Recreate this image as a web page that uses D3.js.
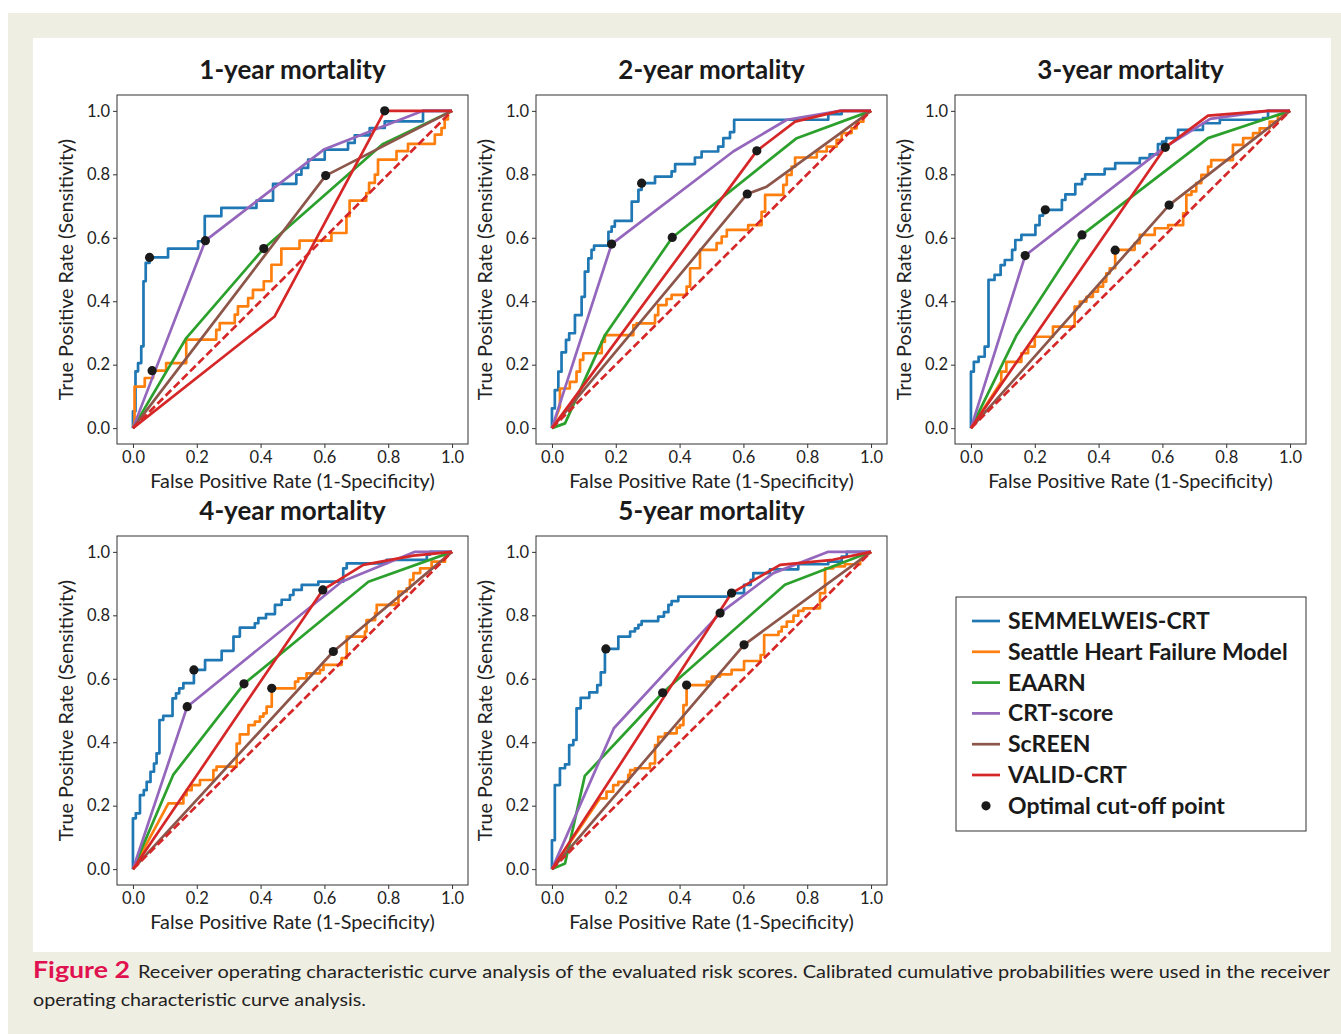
<!DOCTYPE html>
<html>
<head>
<meta charset="utf-8">
<script src="https://cdn.jsdelivr.net/npm/d3@7"></script>
<style>
  body { margin: 0; background: #fff; }
  svg { display: block; }
  .tick text { font-family: Lato, "Open Sans", sans-serif; font-size: 16.5px; fill: #222; }
  .tick line { stroke: #333; }
</style>
</head>
<body>
<script>
// ---- data ----
const panelTitles = ['1-year mortality', '2-year mortality', '3-year mortality', '4-year mortality', '5-year mortality'];
const modelNames = ['SEMMELWEIS-CRT', 'Seattle Heart Failure Model', 'EAARN', 'CRT-score', 'ScREEN', 'VALID-CRT'];
const modelColors = ['#1f77b4', '#ff7f0e', '#2ca02c', '#9467bd', '#8c564b', '#d62728'];
const tickValues = [0, 0.2, 0.4, 0.6, 0.8, 1.0];

// ROC points [fpr, tpr], one list per panel (1..5 years)
const semmelweisRoc = [
  [[0,0],[0,0.053],[0.008,0.053],[0.008,0.179],[0.016,0.179],[0.016,0.205],[0.026,0.205],[0.026,0.258],[0.033,0.258],[0.033,0.463],[0.04,0.463],[0.04,0.521],[0.052,0.521],[0.052,0.538],[0.11,0.538],[0.11,0.566],[0.204,0.566],[0.204,0.589],[0.225,0.589],[0.225,0.668],[0.277,0.668],[0.277,0.694],[0.387,0.694],[0.387,0.717],[0.439,0.717],[0.439,0.77],[0.512,0.77],[0.512,0.799],[0.528,0.799],[0.528,0.82],[0.549,0.82],[0.549,0.846],[0.601,0.846],[0.601,0.878],[0.674,0.878],[0.674,0.899],[0.695,0.899],[0.695,0.923],[0.742,0.923],[0.742,0.946],[0.789,0.946],[0.789,0.967],[0.909,0.967],[0.909,1],[1,1]],
  [[0,0],[0,0.062],[0.009,0.062],[0.009,0.12],[0.02,0.12],[0.02,0.178],[0.03,0.178],[0.03,0.239],[0.044,0.239],[0.044,0.278],[0.054,0.278],[0.054,0.299],[0.072,0.299],[0.072,0.356],[0.093,0.356],[0.093,0.414],[0.103,0.414],[0.103,0.493],[0.114,0.493],[0.114,0.535],[0.124,0.535],[0.124,0.562],[0.132,0.562],[0.132,0.575],[0.177,0.575],[0.177,0.619],[0.187,0.619],[0.187,0.635],[0.197,0.635],[0.197,0.653],[0.25,0.653],[0.25,0.714],[0.271,0.714],[0.271,0.751],[0.281,0.751],[0.281,0.772],[0.323,0.772],[0.323,0.793],[0.375,0.793],[0.375,0.809],[0.386,0.809],[0.386,0.832],[0.448,0.832],[0.448,0.853],[0.469,0.853],[0.469,0.872],[0.521,0.872],[0.521,0.887],[0.537,0.887],[0.537,0.914],[0.558,0.914],[0.558,0.933],[0.571,0.933],[0.571,0.972],[0.866,0.972],[0.866,0.99],[0.908,0.99],[0.908,1],[1,1]],
  [[0,0],[0,0.178],[0.009,0.178],[0.009,0.209],[0.024,0.209],[0.024,0.225],[0.043,0.225],[0.043,0.257],[0.055,0.257],[0.055,0.467],[0.074,0.467],[0.074,0.483],[0.093,0.483],[0.093,0.514],[0.106,0.514],[0.106,0.53],[0.129,0.53],[0.129,0.562],[0.139,0.562],[0.139,0.593],[0.158,0.593],[0.158,0.609],[0.202,0.609],[0.202,0.64],[0.215,0.64],[0.215,0.67],[0.226,0.67],[0.226,0.688],[0.285,0.688],[0.285,0.719],[0.296,0.719],[0.296,0.737],[0.327,0.737],[0.327,0.769],[0.348,0.769],[0.348,0.785],[0.358,0.785],[0.358,0.8],[0.419,0.8],[0.419,0.817],[0.452,0.817],[0.452,0.835],[0.529,0.835],[0.529,0.851],[0.56,0.851],[0.56,0.863],[0.586,0.863],[0.586,0.895],[0.599,0.895],[0.599,0.903],[0.612,0.903],[0.612,0.914],[0.649,0.914],[0.649,0.94],[0.727,0.94],[0.727,0.961],[0.78,0.961],[0.78,0.972],[0.915,0.972],[0.915,0.977],[0.931,0.977],[0.931,1],[1,1]],
  [[0,0],[0,0.16],[0.009,0.16],[0.009,0.176],[0.022,0.176],[0.022,0.233],[0.034,0.233],[0.034,0.249],[0.043,0.249],[0.043,0.275],[0.055,0.275],[0.055,0.307],[0.066,0.307],[0.066,0.333],[0.074,0.333],[0.074,0.365],[0.083,0.365],[0.083,0.47],[0.095,0.47],[0.095,0.483],[0.124,0.483],[0.124,0.538],[0.135,0.538],[0.135,0.554],[0.145,0.554],[0.145,0.57],[0.158,0.57],[0.158,0.586],[0.191,0.586],[0.191,0.628],[0.226,0.628],[0.226,0.659],[0.278,0.659],[0.278,0.688],[0.315,0.688],[0.315,0.733],[0.335,0.733],[0.335,0.761],[0.382,0.761],[0.382,0.775],[0.393,0.775],[0.393,0.791],[0.417,0.791],[0.417,0.804],[0.445,0.804],[0.445,0.833],[0.466,0.833],[0.466,0.849],[0.492,0.849],[0.492,0.864],[0.503,0.864],[0.503,0.88],[0.529,0.88],[0.529,0.896],[0.581,0.896],[0.581,0.906],[0.659,0.906],[0.659,0.948],[0.67,0.948],[0.67,0.964],[0.795,0.964],[0.795,0.975],[0.921,0.975],[0.921,0.991],[0.931,0.991],[0.931,1],[1,1]],
  [[0,0],[0,0.091],[0.009,0.091],[0.009,0.265],[0.025,0.265],[0.025,0.318],[0.041,0.318],[0.041,0.33],[0.054,0.33],[0.054,0.391],[0.067,0.391],[0.067,0.407],[0.077,0.407],[0.077,0.507],[0.09,0.507],[0.09,0.54],[0.117,0.54],[0.117,0.557],[0.142,0.557],[0.142,0.58],[0.153,0.58],[0.153,0.62],[0.166,0.62],[0.166,0.694],[0.208,0.694],[0.208,0.733],[0.245,0.733],[0.245,0.749],[0.26,0.749],[0.26,0.759],[0.271,0.759],[0.271,0.77],[0.281,0.77],[0.281,0.782],[0.333,0.782],[0.333,0.796],[0.351,0.796],[0.351,0.81],[0.365,0.81],[0.365,0.833],[0.375,0.833],[0.375,0.845],[0.396,0.845],[0.396,0.859],[0.553,0.859],[0.553,0.87],[0.602,0.87],[0.602,0.896],[0.623,0.896],[0.623,0.912],[0.631,0.912],[0.631,0.933],[0.683,0.933],[0.683,0.945],[0.772,0.945],[0.772,0.961],[0.866,0.961],[0.866,0.969],[0.908,0.969],[0.908,0.985],[0.924,0.985],[0.924,1],[1,1]]
];

const shfmRoc = [
  [[0,0],[0.005,0.02],[0.005,0.131],[0.037,0.131],[0.037,0.158],[0.063,0.158],[0.063,0.181],[0.104,0.181],[0.104,0.205],[0.167,0.205],[0.167,0.279],[0.261,0.279],[0.261,0.31],[0.272,0.31],[0.272,0.331],[0.319,0.331],[0.319,0.358],[0.329,0.358],[0.329,0.384],[0.361,0.384],[0.361,0.41],[0.376,0.41],[0.376,0.436],[0.41,0.436],[0.41,0.463],[0.434,0.463],[0.434,0.515],[0.465,0.515],[0.465,0.566],[0.522,0.566],[0.522,0.591],[0.622,0.591],[0.622,0.615],[0.669,0.615],[0.669,0.668],[0.679,0.668],[0.679,0.717],[0.731,0.717],[0.731,0.741],[0.74,0.741],[0.74,0.773],[0.758,0.773],[0.758,0.799],[0.768,0.799],[0.768,0.846],[0.826,0.846],[0.826,0.873],[0.862,0.873],[0.862,0.896],[0.946,0.896],[0.946,0.925],[0.967,0.925],[0.967,0.946],[0.977,0.946],[0.977,0.973],[0.987,0.973],[0.987,0.994],[1,1]],
  [[0,0],[0.025,0.067],[0.025,0.125],[0.056,0.125],[0.056,0.146],[0.077,0.146],[0.077,0.178],[0.088,0.178],[0.088,0.215],[0.098,0.215],[0.098,0.236],[0.156,0.236],[0.156,0.272],[0.166,0.272],[0.166,0.293],[0.255,0.293],[0.255,0.325],[0.265,0.325],[0.265,0.33],[0.323,0.33],[0.323,0.356],[0.333,0.356],[0.333,0.388],[0.359,0.388],[0.359,0.407],[0.375,0.407],[0.375,0.42],[0.422,0.42],[0.422,0.446],[0.433,0.446],[0.433,0.504],[0.464,0.504],[0.464,0.562],[0.516,0.562],[0.516,0.583],[0.532,0.583],[0.532,0.604],[0.548,0.604],[0.548,0.625],[0.615,0.625],[0.615,0.64],[0.657,0.64],[0.657,0.682],[0.668,0.682],[0.668,0.735],[0.725,0.735],[0.725,0.767],[0.736,0.767],[0.736,0.798],[0.751,0.798],[0.751,0.824],[0.762,0.824],[0.762,0.853],[0.83,0.853],[0.83,0.872],[0.861,0.872],[0.861,0.887],[0.892,0.887],[0.892,0.909],[0.908,0.909],[0.908,0.93],[0.939,0.93],[0.939,0.945],[0.955,0.945],[0.955,0.966],[0.976,0.966],[0.976,0.987],[1,1]],
  [[0,0],[0.095,0.146],[0.095,0.178],[0.111,0.178],[0.111,0.209],[0.158,0.209],[0.158,0.236],[0.179,0.236],[0.179,0.257],[0.2,0.257],[0.2,0.288],[0.257,0.288],[0.257,0.32],[0.325,0.32],[0.325,0.383],[0.341,0.383],[0.341,0.399],[0.362,0.399],[0.362,0.414],[0.382,0.414],[0.382,0.43],[0.398,0.43],[0.398,0.446],[0.414,0.446],[0.414,0.462],[0.424,0.462],[0.424,0.488],[0.435,0.488],[0.435,0.504],[0.452,0.504],[0.452,0.562],[0.513,0.562],[0.513,0.583],[0.529,0.583],[0.529,0.609],[0.576,0.609],[0.576,0.63],[0.618,0.63],[0.618,0.64],[0.665,0.64],[0.665,0.677],[0.675,0.677],[0.675,0.735],[0.691,0.735],[0.691,0.746],[0.706,0.746],[0.706,0.772],[0.722,0.772],[0.722,0.798],[0.743,0.798],[0.743,0.824],[0.753,0.824],[0.753,0.845],[0.821,0.845],[0.821,0.893],[0.853,0.893],[0.853,0.914],[0.884,0.914],[0.884,0.93],[0.905,0.93],[0.905,0.945],[0.936,0.945],[0.936,0.966],[0.962,0.966],[0.962,0.987],[0.978,0.987],[0.978,0.998],[1,1]],
  [[0,0],[0.111,0.207],[0.158,0.207],[0.158,0.233],[0.168,0.233],[0.168,0.249],[0.184,0.249],[0.184,0.265],[0.21,0.265],[0.21,0.281],[0.252,0.281],[0.252,0.312],[0.262,0.312],[0.262,0.323],[0.325,0.323],[0.325,0.396],[0.335,0.396],[0.335,0.425],[0.362,0.425],[0.362,0.454],[0.382,0.454],[0.382,0.465],[0.398,0.465],[0.398,0.481],[0.409,0.481],[0.409,0.491],[0.419,0.491],[0.419,0.512],[0.435,0.512],[0.435,0.57],[0.508,0.57],[0.508,0.591],[0.518,0.591],[0.518,0.601],[0.544,0.601],[0.544,0.617],[0.586,0.617],[0.586,0.628],[0.597,0.628],[0.597,0.644],[0.654,0.644],[0.654,0.665],[0.67,0.665],[0.67,0.733],[0.727,0.733],[0.727,0.749],[0.732,0.749],[0.732,0.785],[0.759,0.785],[0.759,0.807],[0.764,0.807],[0.764,0.833],[0.821,0.833],[0.821,0.838],[0.832,0.838],[0.832,0.875],[0.858,0.875],[0.858,0.885],[0.868,0.885],[0.868,0.912],[0.879,0.912],[0.879,0.933],[0.9,0.933],[0.9,0.948],[0.936,0.948],[0.936,0.969],[0.978,0.969],[0.978,0.991],[1,1]],
  [[0,0],[0.15,0.223],[0.171,0.223],[0.171,0.244],[0.192,0.244],[0.192,0.265],[0.208,0.265],[0.208,0.275],[0.239,0.275],[0.239,0.297],[0.245,0.297],[0.245,0.312],[0.26,0.312],[0.26,0.318],[0.307,0.318],[0.307,0.333],[0.323,0.333],[0.323,0.391],[0.333,0.391],[0.333,0.417],[0.354,0.417],[0.354,0.428],[0.391,0.428],[0.391,0.446],[0.401,0.446],[0.401,0.454],[0.412,0.454],[0.412,0.517],[0.422,0.517],[0.422,0.58],[0.485,0.58],[0.485,0.591],[0.501,0.591],[0.501,0.607],[0.527,0.607],[0.527,0.614],[0.563,0.614],[0.563,0.628],[0.602,0.628],[0.602,0.656],[0.654,0.656],[0.654,0.675],[0.665,0.675],[0.665,0.738],[0.71,0.738],[0.71,0.749],[0.72,0.749],[0.72,0.764],[0.736,0.764],[0.736,0.78],[0.757,0.78],[0.757,0.799],[0.772,0.799],[0.772,0.814],[0.788,0.814],[0.788,0.822],[0.84,0.822],[0.84,0.87],[0.856,0.87],[0.856,0.948],[0.882,0.948],[0.882,0.954],[0.918,0.954],[0.918,0.961],[0.966,0.961],[0.966,0.975],[1,1]]
];

const eaarnRoc = [
  [[0,0],[0.167,0.284],[0.41,0.566],[0.784,0.896],[1,1]],
  [[0,0],[0.041,0.015],[0.166,0.293],[0.377,0.601],[0.767,0.914],[1,1]],
  [[0,0],[0.142,0.291],[0.348,0.609],[0.743,0.914],[1,1]],
  [[0,0],[0.126,0.297],[0.348,0.584],[0.738,0.906],[1,1]],
  [[0,0],[0.041,0.018],[0.103,0.294],[0.347,0.556],[0.73,0.896],[1,1]]
];

const crtScoreRoc = [
  [[0,0],[0.227,0.591],[0.598,0.878],[0.909,1],[1,1]],
  [[0,0],[0.187,0.58],[0.568,0.872],[0.736,0.972],[0.903,1],[1,1]],
  [[0,0],[0.17,0.544],[0.6,0.88],[0.75,0.975],[0.93,1],[1,1]],
  [[0,0],[0.17,0.512],[0.654,0.906],[0.884,1],[1,1]],
  [[0,0],[0.194,0.444],[0.527,0.807],[0.694,0.933],[0.866,1],[1,1]]
];

const screenRoc = [
  [[0,0],[0.604,0.796],[1,1]],
  [[0,0],[0.612,0.738],[0.673,0.761],[1,1]],
  [[0,0],[0.621,0.703],[1,1]],
  [[0,0],[0.628,0.686],[1,1]],
  [[0,0],[0.602,0.707],[1,1]]
];

const validCrtRoc = [
  [[0,0],[0.444,0.352],[0.789,1],[1,1]],
  [[0,0],[0.642,0.874],[0.762,0.966],[0.903,1],[1,1]],
  [[0,0],[0.609,0.885],[0.743,0.985],[0.931,1],[1,1]],
  [[0,0],[0.595,0.88],[0.722,0.959],[0.879,0.988],[1,1]],
  [[0,0],[0.563,0.87],[0.715,0.959],[0.88,0.975],[1,1]]
];

// optimal cut-off points [fpr, tpr] per panel (null = not shown)
const semmelweisCut = [[0.052,0.538],[0.281,0.772],[0.233,0.688],[0.191,0.628],[0.169,0.694]];
const shfmCut       = [[0.06,0.181], null, [0.452,0.561],[0.435,0.57],[0.422,0.58]];
const eaarnCut      = [[0.41,0.566],[0.377,0.601],[0.348,0.609],[0.348,0.584],[0.347,0.556]];
const crtScoreCut   = [[0.227,0.591],[0.187,0.58],[0.17,0.544],[0.17,0.512],[0.527,0.807]];
const screenCut     = [[0.604,0.796],[0.612,0.738],[0.621,0.703],[0.628,0.686],[0.602,0.707]];
const validCrtCut   = [[0.789,1],[0.642,0.874],[0.609,0.885],[0.595,0.88],[0.563,0.87]];

const allRoc = [semmelweisRoc, shfmRoc, eaarnRoc, crtScoreRoc, screenRoc, validCrtRoc];
const allCut = [semmelweisCut, shfmCut, eaarnCut, crtScoreCut, screenCut, validCrtCut];

// ---- layout ----
const W = 1341, H = 1034;
const font = 'Lato, "Open Sans", sans-serif';
const colLeft = [117, 536, 955], rowTop = [95, 536];
const pw = 351, ph = 349;

const svg = d3.select('body').append('svg')
  .attr('width', W).attr('height', H);

svg.append('rect').attr('x', 8).attr('y', 13).attr('width', W - 8).attr('height', H - 13).attr('fill', '#efeee3');
svg.append('rect').attr('x', 33).attr('y', 38).attr('width', 1298).attr('height', 914).attr('fill', '#fff');

panelTitles.forEach((title, i) => {
  const left = colLeft[i % 3], top = rowTop[Math.floor(i / 3)];
  const x = d3.scaleLinear().domain([-0.05, 1.05]).range([left, left + pw]);
  const y = d3.scaleLinear().domain([-0.05, 1.05]).range([top + ph, top]);
  const g = svg.append('g');

  // axes
  g.append('g')
    .attr('transform', `translate(0,${top + ph})`)
    .call(d3.axisBottom(x).tickValues(tickValues).tickFormat(d3.format('.1f')).tickSize(4).tickPadding(3))
    .call(a => a.select('.domain').remove());
  g.append('g')
    .attr('transform', `translate(${left},0)`)
    .call(d3.axisLeft(y).tickValues(tickValues).tickFormat(d3.format('.1f')).tickSize(4).tickPadding(3))
    .call(a => a.select('.domain').remove());

  const line = d3.line().x(d => x(d[0])).y(d => y(d[1]));

  allRoc.forEach((roc, m) => {
    g.append('path')
      .attr('d', line(roc[i]))
      .attr('fill', 'none')
      .attr('stroke', modelColors[m])
      .attr('stroke-width', 2.7)
      .attr('stroke-linejoin', 'round');
  });

  // chance line
  g.append('path')
    .attr('d', line([[0, 0], [1, 1]]))
    .attr('stroke', '#d62728').attr('stroke-width', 2.7)
    .attr('stroke-dasharray', '8,3.5');

  allCut.forEach(cut => {
    if (!cut[i]) return;
    g.append('circle')
      .attr('cx', x(cut[i][0])).attr('cy', y(cut[i][1]))
      .attr('r', 4.6).attr('fill', '#1a1a1a');
  });

  g.append('rect')
    .attr('x', left).attr('y', top).attr('width', pw).attr('height', ph)
    .attr('fill', 'none').attr('stroke', '#333').attr('stroke-width', 1);

  g.append('text')
    .attr('x', left + pw / 2).attr('y', top - 16)
    .attr('text-anchor', 'middle')
    .attr('font-family', font).attr('font-weight', 'bold').attr('font-size', 26)
    .attr('fill', '#1a1a1a')
    .text(title);

  g.append('text')
    .attr('x', left + pw / 2).attr('y', top + ph + 44)
    .attr('text-anchor', 'middle')
    .attr('font-family', font).attr('font-size', 19.8)
    .attr('fill', '#222')
    .text('False Positive Rate (1-Specificity)');

  g.append('text')
    .attr('transform', `translate(${left - 44},${top + ph / 2}) rotate(-90)`)
    .attr('text-anchor', 'middle')
    .attr('font-family', font).attr('font-size', 19.8)
    .attr('fill', '#222')
    .text('True Positive Rate (Sensitivity)');
});

// ---- legend ----
const lg = svg.append('g');
lg.append('rect').attr('x', 956).attr('y', 597).attr('width', 350).attr('height', 234)
  .attr('fill', '#fff').attr('stroke', '#333').attr('stroke-width', 1);
const legendItems = modelNames.concat(['Optimal cut-off point']);
legendItems.forEach((name, k) => {
  const ly = 621 + k * 30.8;
  if (k < modelNames.length) {
    lg.append('line').attr('x1', 972).attr('x2', 1000).attr('y1', ly).attr('y2', ly)
      .attr('stroke', modelColors[k]).attr('stroke-width', 2.7);
  } else {
    lg.append('circle').attr('cx', 986).attr('cy', ly).attr('r', 4.6).attr('fill', '#1a1a1a');
  }
  lg.append('text').attr('x', 1008).attr('y', ly + 8)
    .attr('font-family', font).attr('font-weight', 'bold').attr('font-size', 23)
    .attr('fill', '#1a1a1a').text(name);
});

// ---- caption ----
svg.append('text').attr('x', 33).attr('y', 978)
  .attr('font-family', font).attr('font-weight', 'bold').attr('font-size', 22)
  .attr('fill', '#e0124f')
  .attr('textLength', 97).attr('lengthAdjust', 'spacingAndGlyphs')
  .text('Figure 2');
svg.append('text').attr('x', 138).attr('y', 978)
  .attr('font-family', font).attr('font-size', 17.5)
  .attr('fill', '#222')
  .attr('textLength', 1192).attr('lengthAdjust', 'spacingAndGlyphs')
  .text('Receiver operating characteristic curve analysis of the evaluated risk scores. Calibrated cumulative probabilities were used in the receiver');
svg.append('text').attr('x', 33).attr('y', 1006)
  .attr('font-family', font).attr('font-size', 17.5)
  .attr('fill', '#222')
  .attr('textLength', 333).attr('lengthAdjust', 'spacingAndGlyphs')
  .text('operating characteristic curve analysis.');
</script>
</body>
</html>
